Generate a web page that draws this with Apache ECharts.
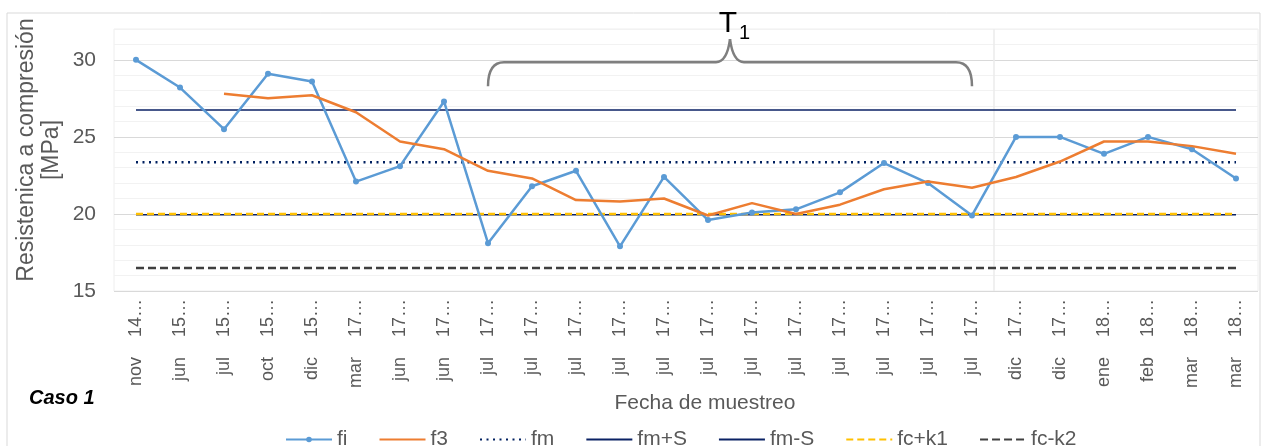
<!DOCTYPE html>
<html>
<head>
<meta charset="utf-8">
<script src="https://cdn.jsdelivr.net/npm/echarts@6/dist/echarts.min.js"></script>
<style>
  html, body { margin: 0; padding: 0; background: #fff; }
  #chart { width: 1262px; height: 446px; }
</style>
</head>
<body>
<div id="chart"></div>
<script>
// fechas de muestreo (etiquetas tal como se ven, truncadas)
const categories = [
  'nov 14…', 'jun 15…', 'jul 15…', 'oct 15…', 'dic 15…', 'mar 17…', 'jun 17…', 'jun 17…',
  'jul 17…', 'jul 17…', 'jul 17…', 'jul 17…', 'jul 17…', 'jul 17…',
  'jul 17…', 'jul 17…', 'jul 17…', 'jul 17…', 'jul 17…', 'jul 17…',
  'dic 17…', 'dic 17…', 'ene 18…', 'feb 18…', 'mar 18…', 'mar 18…'
];

// resistencia individual
const fi = [30.0, 28.2, 25.5, 29.1, 28.6, 22.1, 23.1, 27.3, 18.1, 21.8, 22.8, 17.9, 22.4,
  19.6, 20.1, 20.3, 21.4, 23.3, 22.0, 19.9, 25.0, 25.0, 23.9, 25.0, 24.2, 22.3];

// media movil de 3
const f3 = ['-', '-', 27.8, 27.5, 27.7, 26.6, 24.7, 24.2, 22.8, 22.3, 20.9, 20.8, 21.0,
  19.9, 20.7, 20.0, 20.6, 21.6, 22.1, 21.7, 22.4, 23.4, 24.7, 24.7, 24.4, 23.9];

// lineas de referencia
const fm = 23.35;
const fmPlusS = 26.75;
const fmMinusS = 19.95;
const fcPlusK1 = 20.0;
const fcMinusK2 = 16.5;

// tramo T1 (indices de categoria)
const t1Range = [8, 19];

const yMin = 15, yMax = 32;
const textColor = '#595959';
const font = 'Liberation Sans, Arial, sans-serif';

function flat(v) {
  return categories.map(() => v);
}

let chart = echarts.init(document.getElementById('chart'));

// en la leyenda solo fi lleva marcador
const noMark = { opacity: 0 };

const options = {
  animation: false,
  textStyle: { fontFamily: font },
  grid: {
    left: 114, right: 4, top: 29, bottom: 155,
    show: true, borderColor: '#EEEEEE', borderWidth: 1
  },
  legend: {
    left: 280, top: 424,
    icon: 'inherit',
    itemWidth: 46, itemHeight: 7, itemGap: 31,
    textStyle: { fontSize: 21, color: textColor, fontFamily: font },
    data: [
      { name: 'fi' },
      { name: 'f3', itemStyle: noMark },
      { name: 'fm', itemStyle: noMark },
      { name: 'fm+S', itemStyle: noMark },
      { name: 'fm-S', itemStyle: noMark },
      { name: 'fc+k1', itemStyle: noMark },
      { name: 'fc-k2', itemStyle: noMark }
    ]
  },
  xAxis: {
    type: 'category',
    data: categories,
    boundaryGap: true,
    name: 'Fecha de muestreo',
    nameLocation: 'middle',
    nameGap: 102,
    nameMoveOverlap: false,
    nameTextStyle: { fontSize: 21, color: textColor, padding: [0, 0, 0, 38] },
    axisLine: { show: false },
    axisTick: { show: false },
    axisLabel: {
      rotate: 90, fontSize: 18, color: textColor, margin: 8, interval: 0,
      // Excel deja mas aire entre mes y anio
      formatter: s => s.replace(' ', '    ')
    }
  },
  yAxis: {
    type: 'value',
    min: yMin, max: yMax, interval: 1,
    name: 'Resistenica a compresión\n[MPa]',
    nameLocation: 'middle',
    nameRotate: 90,
    nameGap: 50,
    nameMoveOverlap: false,
    nameTextStyle: { fontSize: 23, color: textColor, lineHeight: 25, padding: [0, 0, 0, 20] },
    axisLine: { show: false },
    axisTick: { show: false },
    axisLabel: {
      fontSize: 21, color: textColor, margin: 18,
      formatter: v => (v % 5 === 0 ? String(v) : '')
    },
    splitLine: {
      lineStyle: { color: ['#D9D9D9', '#F2F2F2', '#F2F2F2', '#F2F2F2', '#F2F2F2'], width: 1 }
    }
  },
  series: [
    {
      name: 'fi', type: 'line', data: fi, z: 5,
      symbol: 'circle', symbolSize: 6,
      itemStyle: { color: '#5B9BD5' },
      lineStyle: { color: '#5B9BD5', width: 2.5 }
    },
    {
      name: 'f3', type: 'line', data: f3, z: 6,
      symbol: 'none',
      itemStyle: { color: '#ED7D31' },
      lineStyle: { color: '#ED7D31', width: 2.5 }
    },
    {
      name: 'fm', type: 'line', data: flat(fm), z: 3, symbol: 'none',
      itemStyle: { color: '#002060' },
      lineStyle: { color: '#002060', width: 2.5, type: [2, 4.5] }
    },
    {
      name: 'fm+S', type: 'line', data: flat(fmPlusS), z: 3, symbol: 'none',
      itemStyle: { color: '#0B2265' },
      lineStyle: { color: '#0B2265', width: 1.5 }
    },
    {
      name: 'fm-S', type: 'line', data: flat(fmMinusS), z: 2, symbol: 'none',
      itemStyle: { color: '#0B2265' },
      lineStyle: { color: '#0B2265', width: 1.5 }
    },
    {
      name: 'fc+k1', type: 'line', data: flat(fcPlusK1), z: 3, symbol: 'none',
      itemStyle: { color: '#FFC000' },
      lineStyle: { color: '#FFC000', width: 2.5, type: [7, 4] }
    },
    {
      name: 'fc-k2', type: 'line', data: flat(fcMinusK2), z: 3, symbol: 'none',
      itemStyle: { color: '#404040' },
      lineStyle: { color: '#404040', width: 2.5, type: [8, 4] }
    }
  ]
};

chart.setOption(options);

// anotaciones: llave T1, separador y marco, a partir de las escalas
const x1 = chart.convertToPixel({ xAxisIndex: 0 }, t1Range[0]);
const x2 = chart.convertToPixel({ xAxisIndex: 0 }, t1Range[1]);
const xm = (x1 + x2) / 2;
const yH = chart.convertToPixel({ yAxisIndex: 0 }, 29.85);
const yTop = chart.convertToPixel({ yAxisIndex: 0 }, yMax);
const yBot = chart.convertToPixel({ yAxisIndex: 0 }, yMin);
const xSep = (chart.convertToPixel({ xAxisIndex: 0 }, 19) + chart.convertToPixel({ xAxisIndex: 0 }, 20)) / 2;

const braceStyle = { fill: 'none', stroke: '#7F7F7F', lineWidth: 2.5 };
function curve(ax, ay, cx, cy, bx, by) {
  return { type: 'bezierCurve', silent: true, z: 10,
    shape: { x1: ax, y1: ay, cpx1: cx, cpy1: cy, x2: bx, y2: by }, style: braceStyle };
}
function seg(ax, ay, bx, by) {
  return { type: 'line', silent: true, z: 10,
    shape: { x1: ax, y1: ay, x2: bx, y2: by }, style: braceStyle };
}

chart.setOption({
  graphic: [
    {
      type: 'rect', silent: true, z: -1,
      shape: { x: 7, y: 13, width: 1253, height: 440 },
      style: { fill: 'none', stroke: '#D9D9D9', lineWidth: 1 }
    },
    {
      type: 'line', silent: true, z: 0,
      shape: { x1: xSep, y1: yTop, x2: xSep, y2: yBot },
      style: { stroke: '#EBEBEB', lineWidth: 1.5 }
    },
    curve(x1, yH + 24, x1, yH, x1 + 16, yH),
    seg(x1 + 16, yH, xm - 14, yH),
    curve(xm - 14, yH, xm - 3, yH, xm, yH - 23),
    curve(xm, yH - 23, xm + 3, yH, xm + 14, yH),
    seg(xm + 14, yH, x2 - 16, yH),
    curve(x2 - 16, yH, x2, yH, x2, yH + 24),
    {
      type: 'text', silent: true, z: 10,
      x: xm - 2, y: 9,
      style: { text: 'T', font: '30px ' + font, fill: '#000', align: 'center', verticalAlign: 'top' }
    },
    {
      type: 'text', silent: true, z: 10,
      x: xm + 9, y: 23,
      style: { text: '1', font: '20px ' + font, fill: '#000', align: 'left', verticalAlign: 'top' }
    },
    {
      type: 'text', silent: true, z: 10,
      x: 29, y: 398,
      style: { text: 'Caso 1', font: 'italic bold 20px ' + font, fill: '#000', verticalAlign: 'middle' }
    }
  ]
});
</script>
</body>
</html>
